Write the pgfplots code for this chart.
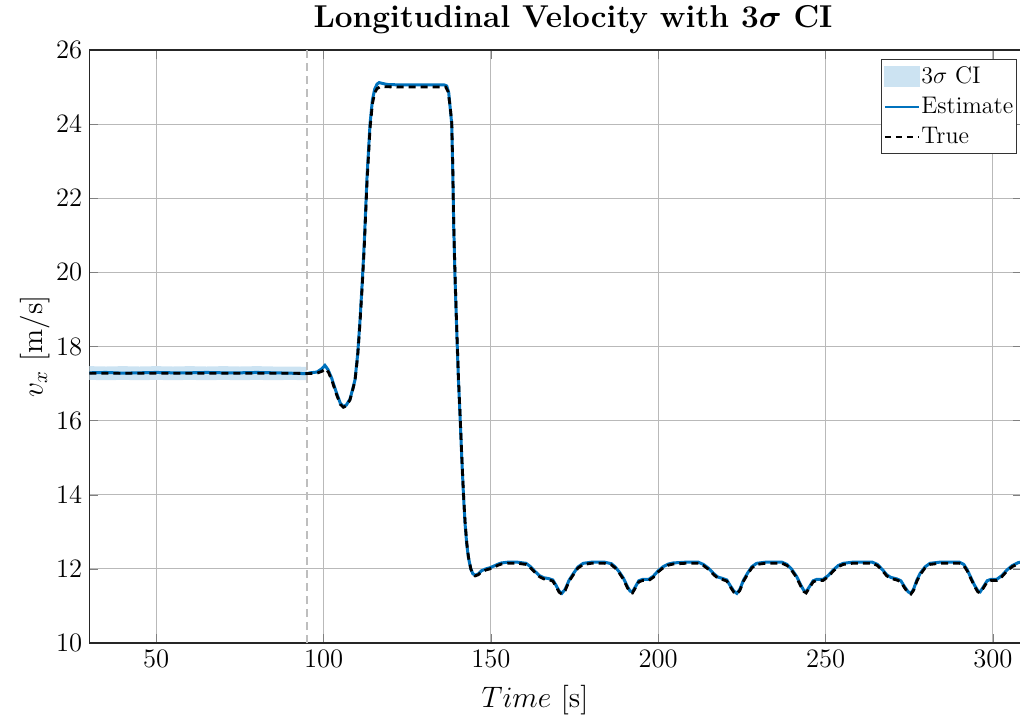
\RequirePackage{fix-cm}
\documentclass[border=0pt]{standalone}
\usepackage{pgfplots}
\pgfplotsset{compat=1.18}
\definecolor{estblue}{RGB}{0,114,189}
\definecolor{cifill}{RGB}{204,227,242}
\definecolor{gridgray}{RGB}{185,185,185}
\definecolor{vgray}{RGB}{190,190,190}
\begin{document}
\begin{tikzpicture}
\begin{axis}[
  at={(0,0)}, anchor=south west,
  scale only axis, width=466.5pt, height=296.5pt,
  xmin=30, xmax=308.8, ymin=10, ymax=26,
  xtick={50,100,...,300}, ytick={10,12,...,26},
  tick align=inside, major tick length=4.5pt,
  grid=major, grid style={line width=0.5pt, draw=gridgray},
  axis line style={line width=0.6pt, black!85},
  ticklabel style={font=\fontsize{13.3}{16}\selectfont},
  title={\textbf{Longitudinal Velocity with {\boldmath$3\sigma$} CI}},
  every axis title/.style={at={(axis description cs:0.5184,1.0506)}, anchor=center, font=\fontsize{15.8}{19}\selectfont},
  xlabel={$Time$ [s]},
  xlabel style={at={(axis description cs:0.4777,-0.0961)}, anchor=center, font=\fontsize{14.8}{17}\selectfont},
  ylabel={$v_x$ [m/s]},
  every axis y label/.style={at={(axis description cs:-0.0579,0.5)}, rotate=90, anchor=center, font=\fontsize{14.8}{17}\selectfont},
  legend cell align=left,
  legend style={at={(axis description cs:0.994,0.985)}, anchor=north east,
    font=\fontsize{12}{14}\selectfont, draw=black!80, line width=0.5pt,
    inner xsep=1pt, inner ysep=1.2pt, row sep=0pt,
    nodes={inner xsep=0.5pt, inner ysep=2.6pt}},
]
% 3 sigma CI band
\addplot[forget plot, fill=cifill, draw=none] coordinates {
 (30,17.47) (35,17.46) (40,17.47) (45,17.46) (50,17.47) (55,17.46) (60,17.47) (65,17.46)
 (70,17.47) (75,17.46) (80,17.47) (85,17.46) (90,17.46) (95,17.45)
 (95,17.09) (90,17.10) (85,17.09) (80,17.10) (75,17.09) (70,17.10) (65,17.09) (60,17.10)
 (55,17.09) (50,17.10) (45,17.09) (40,17.10) (35,17.09) (30,17.10)
} -- cycle;
% vertical marker
\addplot[forget plot, vgray, line width=0.8pt, dash pattern=on 4pt off 2.5pt] coordinates {(95,10) (95,26)};
% Estimate
\addplot[forget plot, estblue, line width=1.5pt] coordinates {
 (30,17.29) (35,17.30) (40,17.28) (45,17.29) (50,17.30) (55,17.29) (60,17.29) (65,17.30)
 (70,17.29) (75,17.29) (80,17.30) (85,17.29) (90,17.28) (94,17.27) (95,17.27) (96,17.29)
 (98,17.31) (99.5,17.40) (100.4,17.49) (101.3,17.38) (102.4,17.15) (103.9,16.74) (105,16.47)
 (105.9,16.38) (106.8,16.42) (107.9,16.58) (108.7,16.85) (109.4,17.10) (110.2,17.80)
 (110.9,18.72) (111.6,19.8) (112.2,20.87) (113,22.6) (113.9,24.02) (114.6,24.65) (115.3,24.95)
 (116.0,25.08) (116.6,25.12) (117.5,25.10) (119,25.07) (122,25.06) (126,25.06) (130,25.06)
 (134,25.06) (136,25.06) (136.8,25.03) (137.4,24.85) (137.8,24.47) (138.3,24.0) (138.6,22.8)
 (138.9,21.2) (139.3,19.8) (139.8,18.4) (140.3,17.1) (140.8,16.1) (141.3,15.0) (141.8,14.0)
 (142.3,13.2) (142.8,12.65) (143.3,12.3) (144.0,12.0) (144.6,11.87) (145.3,11.83) (146.2,11.86)
 (147.2,11.95) (148.5,12.0) (149.7,12.03) (151,12.08) (152.2,12.13) (153.2,12.16) (155,12.18)
 (158,12.18) (160.5,12.15) (161.7,12.07) (163.2,11.93) (164.5,11.82) (165.8,11.76) (167.2,11.74)
 (168.5,11.70) (169.5,11.55) (170.4,11.40) (171.2,11.34) (172.2,11.45) (173.4,11.70) (174.7,11.88)
 (176,12.05) (177.6,12.15) (180,12.18) (184,12.18) (186,12.14) (187.2,12.05) (188.5,11.90)
 (189.6,11.75) (190.8,11.52) (191.6,11.40) (192.3,11.38) (193.2,11.52) (194.2,11.68) (195.5,11.72)
 (197.2,11.72) (198.5,11.80) (200,11.95) (201.5,12.06) (203,12.13) (204.5,12.16) (208,12.18)
 (212,12.18) (213.5,12.12) (215,12.02) (216.5,11.88) (217.8,11.78) (219.3,11.74) (220.5,11.70)
 (221.5,11.55) (222.6,11.40) (223.5,11.34) (224.4,11.45) (225.5,11.70) (226.8,11.90) (228,12.06)
 (229.4,12.15) (232,12.18) (237,12.18) (238.5,12.12) (239.8,12.0) (241.4,11.79) (242.5,11.58)
 (243.5,11.42) (244.2,11.38) (245.2,11.52) (246.3,11.68) (247.5,11.72) (249.3,11.72) (250.8,11.82)
 (252.3,11.97) (253.8,12.09) (255.3,12.15) (258,12.18) (264,12.18) (265.5,12.12) (267,11.98)
 (268.3,11.84) (269.5,11.77) (271.3,11.73) (272.5,11.68) (273.6,11.52) (274.7,11.38) (275.5,11.34)
 (276.3,11.45) (277.3,11.70) (278.3,11.88) (279.7,12.05) (281.2,12.15) (284,12.18) (290,12.18)
 (291.3,12.12) (292.3,11.98) (293.3,11.79) (294.5,11.56) (295.5,11.41) (296.2,11.38) (297.2,11.52)
 (298.3,11.68) (299.5,11.72) (301.2,11.72) (302.7,11.82) (304.2,11.97) (305.8,12.09) (307.6,12.17)
 (308.8,12.19)
};
% True
\addplot[forget plot, black, line width=1.4pt, dash pattern=on 3.5pt off 2.5pt] coordinates {
 (30,17.28) (40,17.28) (50,17.28) (60,17.28) (70,17.28) (80,17.28) (90,17.28) (95,17.27)
 (98,17.28) (99.5,17.33) (100.6,17.40) (101.5,17.30) (102.5,17.08) (103.9,16.70) (105,16.44)
 (105.9,16.36) (106.8,16.40) (107.9,16.56) (108.7,16.83) (109.4,17.08) (110.2,17.75)
 (110.9,18.65) (111.6,19.7) (112.2,20.75) (113,22.45) (113.9,23.90) (114.6,24.55) (115.3,24.85)
 (116.0,24.96) (116.8,25.00) (118,25.01) (122,25.00) (126,25.00) (130,25.00) (134,25.00)
 (136.5,25.00) (137.2,24.88) (137.8,24.50) (138.3,24.05) (138.6,22.9) (138.9,21.3) (139.3,19.9)
 (139.8,18.5) (140.3,17.2) (140.8,16.15) (141.3,15.05) (141.8,14.05) (142.3,13.25) (142.8,12.7)
 (143.3,12.32) (144.0,12.0) (144.6,11.86) (145.3,11.81) (146.2,11.84) (147.2,11.92) (148.5,11.97)
 (149.7,12.0) (151,12.05) (152.2,12.10) (153.2,12.13) (155,12.15) (158,12.15) (160.5,12.12)
 (161.7,12.04) (163.2,11.90) (164.5,11.79) (165.8,11.73) (167.2,11.71) (168.5,11.67) (169.5,11.52)
 (170.4,11.37) (171.2,11.32) (172.2,11.42) (173.4,11.67) (174.7,11.85) (176,12.02) (177.6,12.12)
 (180,12.15) (184,12.15) (186,12.11) (187.2,12.02) (188.5,11.87) (189.6,11.72) (190.8,11.49)
 (191.6,11.37) (192.3,11.35) (193.2,11.49) (194.2,11.65) (195.5,11.69) (197.2,11.69) (198.5,11.77)
 (200,11.92) (201.5,12.03) (203,12.10) (204.5,12.13) (208,12.15) (212,12.15) (213.5,12.09)
 (215,11.99) (216.5,11.85) (217.8,11.75) (219.3,11.71) (220.5,11.67) (221.5,11.52) (222.6,11.37)
 (223.5,11.32) (224.4,11.42) (225.5,11.67) (226.8,11.87) (228,12.03) (229.4,12.12) (232,12.15)
 (237,12.15) (238.5,12.09) (239.8,11.97) (241.4,11.76) (242.5,11.55) (243.5,11.39) (244.2,11.35)
 (245.2,11.49) (246.3,11.65) (247.5,11.69) (249.3,11.69) (250.8,11.79) (252.3,11.94) (253.8,12.06)
 (255.3,12.12) (258,12.15) (264,12.15) (265.5,12.09) (267,11.95) (268.3,11.81) (269.5,11.74)
 (271.3,11.70) (272.5,11.65) (273.6,11.49) (274.7,11.35) (275.5,11.32) (276.3,11.42) (277.3,11.67)
 (278.3,11.85) (279.7,12.02) (281.2,12.12) (284,12.15) (290,12.15) (291.3,12.09) (292.3,11.95)
 (293.3,11.76) (294.5,11.53) (295.5,11.38) (296.2,11.35) (297.2,11.49) (298.3,11.65) (299.5,11.69)
 (301.2,11.69) (302.7,11.79) (304.2,11.94) (305.8,12.06) (307.6,12.14) (308.8,12.16)
};
\addlegendimage{legend image code/.code={\fill[cifill] (0pt,-5pt) rectangle (17.5pt,5pt);}}
\addlegendentry{$3\sigma$ CI}
\addlegendimage{estblue, line width=1pt}
\addlegendentry{Estimate}
\addlegendimage{black, line width=1pt, dash pattern=on 3pt off 2.5pt}
\addlegendentry{True}
\end{axis}
\pgfresetboundingbox
\path[use as bounding box] (-44.65pt,-39.5pt) rectangle (465.35pt,321.5pt);
\end{tikzpicture}
\end{document}
